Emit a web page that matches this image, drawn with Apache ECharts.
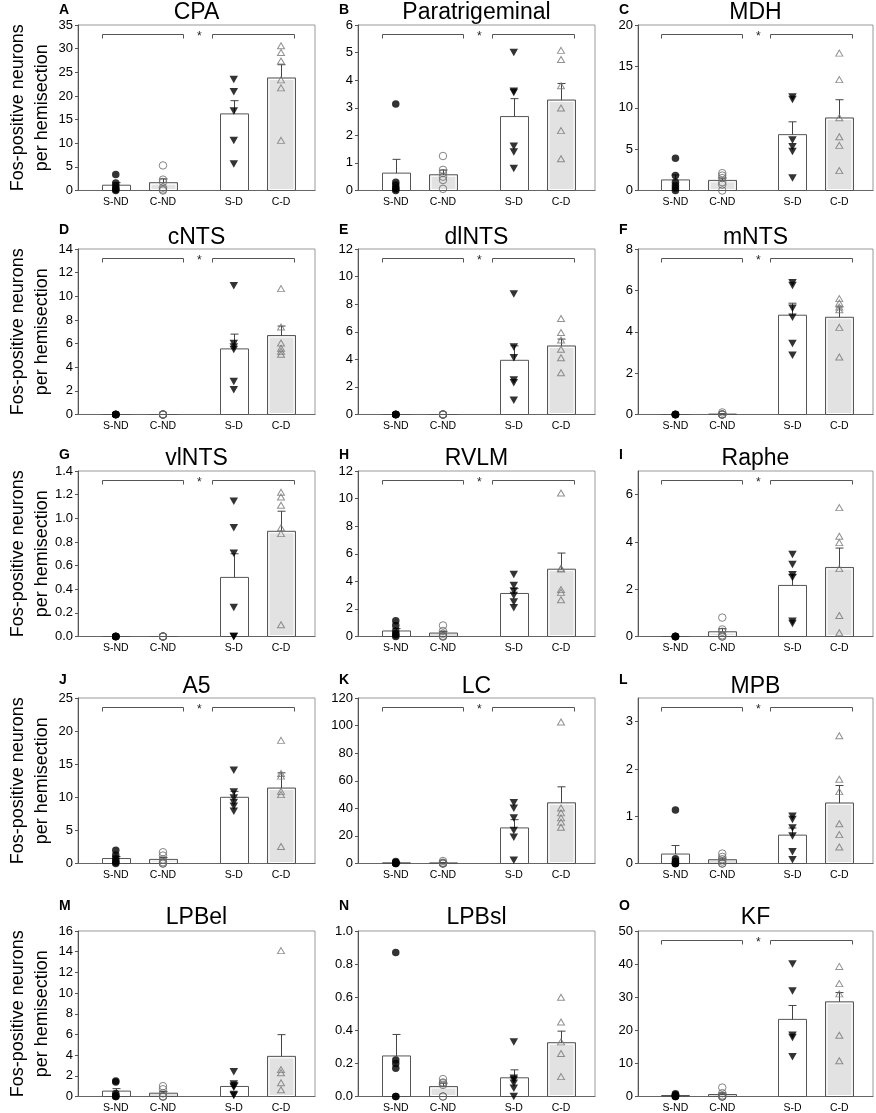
<!DOCTYPE html>
<html><head><meta charset="utf-8">
<script src="https://cdn.jsdelivr.net/npm/echarts@6/dist/echarts.min.js"></script>
<style>html,body{margin:0;padding:0;background:#fff}#c{width:876px;height:1113px}</style>
</head><body><div id="c"></div>
<script>
// ---------- DATA ----------
const groups = ['S-ND', 'C-ND', 'S-D', 'C-D'];
const panelLetters = ['A','B','C','D','E','F','G','H','I','J','K','L','M','N','O'];
const panelTitles = ['CPA','Paratrigeminal','MDH','cNTS','dlNTS','mNTS','vlNTS','RVLM','Raphe','A5','LC','MPB','LPBel','LPBsl','KF'];
const yAxisTitle = 'Fos-positive neurons\nper hemisection';
const yMax  = [35, 6, 20, 14, 12, 8, 1.4, 12, 7, 25, 120, 3.5, 16, 1.0, 50];
const yStep = [5, 1, 5, 2, 2, 2, 0.2, 2, 2, 5, 20, 1, 2, 0.2, 10];
const yDecimals = [0,0,0,0,0,0,1,0,0,0,0,0,0,1,0];
const significant = [1,1,1,1,1,1,1,1,1,1,1,1,0,0,1];

const means = [
  [1.12, 1.65, 16.2, 23.8],
  [0.63, 0.57, 2.68, 3.28],
  [1.28, 1.22, 6.75, 8.77],
  [0, 0, 5.55, 6.68],
  [0, 0, 3.93, 4.97],
  [0, 0.02, 4.8, 4.7],
  [0, 0, 0.5, 0.89],
  [0.4, 0.25, 3.12, 4.88],
  [0, 0.2, 2.16, 2.92],
  [0.75, 0.62, 10.0, 11.4],
  [0.5, 0.45, 25.8, 44.0],
  [0.2, 0.08, 0.6, 1.28],
  [0.52, 0.32, 0.97, 3.88],
  [0.245, 0.06, 0.113, 0.325],
  [0.3, 0.6, 23.3, 28.6]
];
const sems = [
  [0.55, 0.8, 2.8, 2.8],
  [0.5, 0.17, 0.65, 0.6],
  [0.6, 0.3, 1.55, 2.2],
  [0, 0, 1.25, 0.8],
  [0, 0, 1.05, 0.5],
  [0, 0.02, 0.58, 0.5],
  [0, 0, 0.2, 0.17],
  [0.18, 0.12, 0.35, 1.17],
  [0, 0.13, 0.45, 0.82],
  [0.3, 0.28, 0.9, 2.3],
  [0.25, 0.3, 6.0, 11.6],
  [0.18, 0.035, 0.15, 0.37],
  [0.24, 0.17, 0.35, 2.1],
  [0.13, 0.02, 0.048, 0.07],
  [0.15, 0.45, 4.2, 2.8]
];
const ptsSND = [
  [3.4, 1.6, 1.0, 0.5, 0.2, 0],
  [3.14, 0.3, 0.2, 0.1, 0.05, 0],
  [3.9, 1.8, 1.0, 0.6, 0.3, 0],
  [0, 0, 0, 0, 0, 0],
  [0, 0, 0, 0, 0, 0],
  [0, 0, 0, 0, 0, 0],
  [0, 0, 0, 0, 0, 0],
  [1.15, 0.8, 0.4, 0.2, 0.1, 0],
  [0, 0, 0, 0, 0, 0],
  [2.0, 1.3, 0.8, 0.4, 0.2, 0],
  [1.5, 0.8, 0.5, 0.2, 0, 0],
  [1.13, 0.1, 0.05, 0, 0, 0],
  [1.5, 1.4, 0.3, 0.1, 0, 0],
  [0.87, 0.22, 0.2, 0.17, 0, 0],
  [0.8, 0.5, 0.3, 0.1, 0, 0]
];
const ptsCND = [
  [5.3, 2.3, 1.8, 0.6, 0.2, 0],
  [1.25, 0.75, 0.63, 0.5, 0.38, 0.06],
  [2.1, 1.8, 1.5, 1.0, 0.7, 0],
  [0, 0, 0, 0, 0, 0],
  [0, 0, 0, 0, 0, 0],
  [0.1, 0, 0, 0, 0, 0],
  [0, 0, 0, 0, 0, 0],
  [0.8, 0.4, 0.2, 0.05, 0, 0],
  [0.8, 0.3, 0.2, 0.05, 0, 0],
  [1.7, 1.2, 0.6, 0.2, 0, 0],
  [1.8, 0.6, 0.3, 0, 0, 0],
  [0.21, 0.14, 0.09, 0.04, 0, 0],
  [1.0, 0.7, 0.3, 0, 0, 0],
  [0.105, 0.085, 0.08, 0.07, 0, 0],
  [2.7, 1.0, 0.3, 0, 0, 0]
];
const ptsSD = [
  [23.5, 20.9, 16.8, 10.6, 5.6],
  [5.0, 3.6, 3.55, 1.6, 1.4, 0.8],
  [11.3, 11.0, 6.1, 5.3, 4.7, 1.5],
  [10.9, 6.0, 5.7, 5.5, 2.8, 2.1],
  [8.73, 4.9, 4.12, 2.5, 2.3, 1.04],
  [6.37, 6.24, 5.14, 4.7, 3.43, 2.86],
  [1.145, 0.92, 0.705, 0.245, 0, 0],
  [4.5, 3.7, 3.3, 2.98, 2.5, 2.08],
  [3.47, 3.05, 2.61, 2.5, 0.65, 0.55],
  [14.1, 10.8, 9.9, 9.2, 8.65, 7.9],
  [44, 40, 33, 24, 19, 2.4],
  [1.0, 0.93, 0.75, 0.58, 0.25, 0.08],
  [2.4, 1.2, 1.0, 0.9, 0.2, 0.1],
  [0.33, 0.11, 0.1, 0.08, 0.05, 0],
  [40, 31.9, 18.5, 17.8, 12]
];
const ptsCD = [
  [30.6, 29.2, 27.4, 23.4, 21.7, 10.6],
  [5.08, 4.75, 3.8, 2.99, 2.17, 1.15],
  [16.6, 13.4, 8.8, 6.5, 5.45, 2.4],
  [10.65, 7.4, 6.05, 5.6, 5.35, 5.1],
  [6.96, 5.94, 5.4, 4.73, 4.12, 3.03],
  [5.6, 5.39, 5.19, 5.06, 4.21, 2.78],
  [1.22, 1.18, 1.11, 0.92, 0.87, 0.1],
  [10.4, 4.95, 4.9, 3.4, 3.2, 2.66],
  [5.45, 4.24, 3.97, 2.87, 0.89, 0.16],
  [18.6, 13.6, 13.2, 10.9, 10.4, 2.56],
  [102.6, 40.3, 36.7, 33.1, 30, 26.3],
  [2.7, 1.78, 1.52, 0.84, 0.61, 0.35],
  [14.1, 2.6, 2.3, 1.33, 0.65],
  [0.6, 0.45, 0.33, 0.26, 0.12],
  [39.3, 34.1, 31, 18.5, 10.8]
];

// ---------- LAYOUT / STYLE ----------
const FONT = '"Liberation Sans", Arial, sans-serif';
const xPos = [1, 2, 3.5, 4.5];
const colLeft = [78, 358, 638];
const colWidth = [237, 237, 235];
const rowTop = [25, 249, 471, 698, 931];
const plotH = 165.5;
const titleY = [12.5, 238, 459, 686.5, 918];
const letterY = [10, 230, 455, 680, 906];

function tickList(max, step) {
  const a = [];
  for (let k = 0; k * step <= max + 1e-9; k++) a.push(+(k * step).toFixed(6));
  return a;
}

const grids = [], xAxes = [], yAxes = [], series = [], graphics = [];

for (let i = 0; i < 15; i++) {
  const row = Math.floor(i / 3), col = i % 3;
  const L = colLeft[col], W = colWidth[col], T = rowTop[row];
  grids.push({left: L, top: T, width: W, height: plotH, show: true,
    borderColor: '#999', borderWidth: 1, containLabel: false, outerBoundsMode: 'none'});
  xAxes.push({gridIndex: i, type: 'value', min: 0.2, max: 5.22,
    axisLine: {show: true, onZero: false, lineStyle: {color: '#666', width: 1}},
    axisTick: {show: false}, splitLine: {show: false},
    axisLabel: {customValues: xPos, formatter: v => groups[xPos.indexOf(v)],
      fontSize: 10.5, fontFamily: FONT, color: '#000', margin: 6}});
  const tv = tickList(yMax[i], yStep[i]);
  const dec = yDecimals[i];
  yAxes.push({gridIndex: i, type: 'value', min: 0, max: yMax[i], interval: yStep[i],
    axisLine: {show: true, lineStyle: {color: '#555', width: 1}},
    axisTick: {show: true, inside: false, length: 3, customValues: tv, lineStyle: {color: '#555'}},
    axisLabel: {customValues: tv, formatter: v => Number(v).toFixed(dec),
      fontSize: 13, fontFamily: FONT, color: '#000', margin: 5},
    splitLine: {show: false}});

  // bars + error bars
  series.push({
    type: 'custom', xAxisIndex: i, yAxisIndex: i, silent: true, z: 2,
    data: groups.map((g, j) => [xPos[j], means[i][j], sems[i][j], j]),
    renderItem: (params, api) => {
      const x = api.value(0), m = api.value(1), e = api.value(2), j = api.value(3);
      const a = api.coord([x - 0.3, 0]), b = api.coord([x + 0.3, m]);
      const grey = (j % 2 === 1);
      const h = a[1] - b[1];
      const children = [{type: 'rect',
        shape: {x: Math.round(a[0]) + 0.5, y: b[1], width: Math.round(b[0] - a[0]), height: h},
        style: {fill: grey ? '#e2e2e2' : '#fff', stroke: '#555', lineWidth: 1}}];
      if (grey && h > 4) {
        children.push({type: 'rect',
          shape: {x: Math.round(a[0]) + 2, y: b[1] + 1.5, width: Math.round(b[0] - a[0]) - 3, height: h - 2.5},
          style: {fill: null, stroke: '#fff', lineWidth: 1}});
      }
      if (e > 0) {
        const t = api.coord([x, m + e]);
        const cx = Math.round(t[0]) + 0.5;
        children.push({type: 'line', shape: {x1: cx, y1: b[1], x2: cx, y2: t[1]}, style: {stroke: '#444', lineWidth: 1}});
        children.push({type: 'line', shape: {x1: cx - 4, y1: t[1], x2: cx + 4, y2: t[1]}, style: {stroke: '#444', lineWidth: 1}});
      }
      return {type: 'group', children};
    }
  });

  // individual points
  const ptsets = [ptsSND[i], ptsCND[i], ptsSD[i], ptsCD[i]];
  const styles = [
    {symbol: 'circle', symbolSize: 7.5, itemStyle: {color: '#000'}},
    {symbol: 'circle', symbolSize: 7.5, itemStyle: {color: 'rgba(255,255,255,0)', borderColor: '#666', borderWidth: 1}},
    {symbol: 'triangle', symbolSize: [8.5, 7.5], symbolRotate: 180, itemStyle: {color: '#000'}},
    {symbol: 'triangle', symbolSize: [7, 6], itemStyle: {color: 'rgba(255,255,255,0)', borderColor: '#777', borderWidth: 1}}
  ];
  ptsets.forEach((pts, j) => {
    series.push(Object.assign({type: 'scatter', xAxisIndex: i, yAxisIndex: i, silent: true, z: 3,
      data: pts.map(v => [xPos[j], v])}, styles[j]));
  });

  // significance brackets
  if (significant[i]) {
    series.push({
      type: 'custom', xAxisIndex: i, yAxisIndex: i, silent: true, z: 4,
      data: [[0, 0]],
      renderItem: (params, api) => {
        const yb = Math.round(params.coordSys.y + 9) + 0.5;
        const seg = (p, q) => {
          const xa = Math.round(api.coord([p, 0])[0]) + 0.5, xb = Math.round(api.coord([q, 0])[0]) + 0.5;
          return {type: 'polyline', shape: {points: [[xa, yb + 4], [xa, yb], [xb, yb], [xb, yb + 4]]},
            style: {stroke: '#555', fill: null, lineWidth: 1}};
        };
        return {type: 'group', children: [seg(0.7, 2.43), seg(3.03, 4.78),
          {type: 'text', style: {text: '*', x: api.coord([2.77, 0])[0], y: yb + 2,
            align: 'center', verticalAlign: 'middle', textAlign: 'center', textVerticalAlign: 'middle',
            font: '12px ' + FONT, fill: '#222'}}]};
      }
    });
  }

  graphics.push({type: 'text', x: L + W / 2, y: titleY[row], silent: true,
    style: {text: panelTitles[i], font: '23px ' + FONT, fill: '#000',
      align: 'center', verticalAlign: 'middle', textAlign: 'center', textVerticalAlign: 'middle'}});
  graphics.push({type: 'text', x: L - 19, y: letterY[row], silent: true,
    style: {text: panelLetters[i], font: 'bold 14px ' + FONT, fill: '#000',
      align: 'left', verticalAlign: 'middle', textAlign: 'left', textVerticalAlign: 'middle'}});
}

for (let r = 0; r < 5; r++) {
  graphics.push({type: 'text', x: 30, y: rowTop[r] + plotH / 2, rotation: Math.PI / 2, silent: true,
    style: {text: yAxisTitle, font: '18px ' + FONT, fill: '#000', lineHeight: 24,
      align: 'center', verticalAlign: 'middle', textAlign: 'center', textVerticalAlign: 'middle'}});
}

const chart = echarts.init(document.getElementById('c'), null, {renderer: 'canvas'});
chart.setOption({
  animation: false,
  backgroundColor: '#fff',
  grid: grids, xAxis: xAxes, yAxis: yAxes, series: series, graphic: graphics
});
</script></body></html>
